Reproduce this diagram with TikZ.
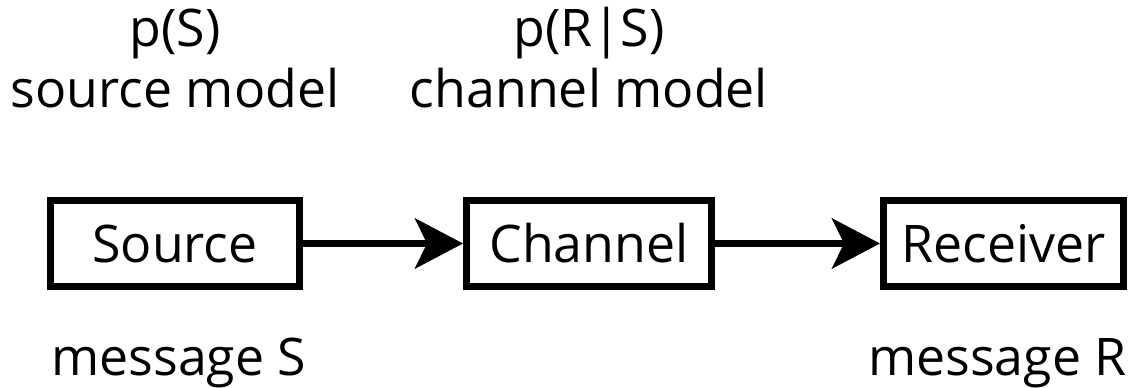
\documentclass[tikz,border=0pt]{standalone}
\usepackage{fontspec}
\setmainfont{Open Sans}
\usetikzlibrary{arrows.meta,positioning}
\tikzset{
  box/.style={rectangle, draw=black, line width=0.14cm, minimum height=1.72cm,
              inner sep=0pt, font=\fontsize{29.5}{34}\selectfont},
  arrow/.style={-{Stealth[length=0.96cm, width=1cm, inset=0.24cm]}, line width=0.14cm},
  label/.style={font=\fontsize{29.5}{34}\selectfont, inner sep=0pt},
}
\begin{document}
\begin{tikzpicture}[x=0.02cm, y=-0.02cm]
\useasboundingbox (0,0) rectangle (1144,388);
% blocks
\node[box, minimum width=4.98cm] (src) at (175,243.5) {Source};
\node[box, minimum width=4.90cm] (chan) at (589,243.5) {Channel};
\node[box, minimum width=4.80cm] (recv) at (1003.5,243.5) {Receiver};
% models
\node[label, anchor=base] (psrc) at (175,47) {p(S)};
\node[label, anchor=base] (msrc) at (175,108) {source model};
\node[label, anchor=base] (pchan) at (589,47) {p(R|S)};
\node[label, anchor=base] (mchan) at (589,108) {channel model};
% messages
\node[label, anchor=base west] (msgs) at (51,376) {message S};
\node[label, anchor=base east] (msgr) at (1127,376) {message R};
\draw[arrow] (src) -- (chan);
\draw[arrow] (chan) -- (recv);
\end{tikzpicture}
\end{document}
